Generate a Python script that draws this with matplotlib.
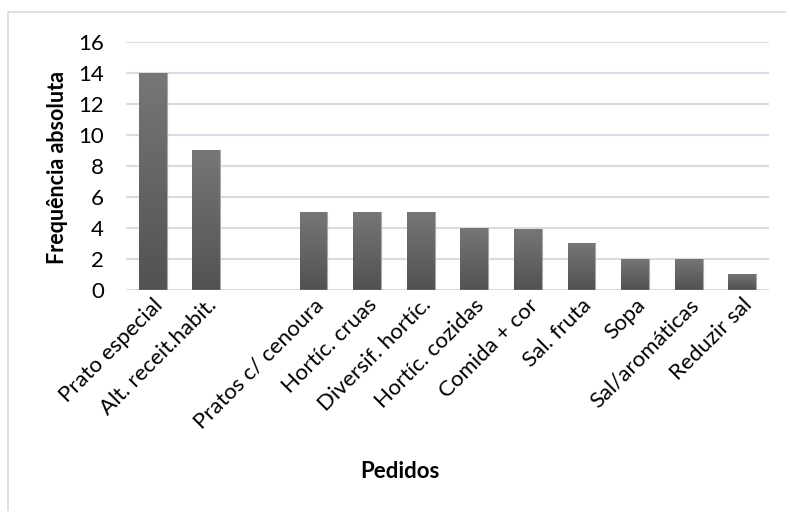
import numpy as np
import matplotlib
matplotlib.use("Agg")
import matplotlib.pyplot as plt
import matplotlib.transforms as mtransforms
from matplotlib.patches import Rectangle
from matplotlib.colors import LinearSegmentedColormap

# data (empty slot between the 2nd and 3rd category)
categories = ["Prato especial", "Alt. receit.habit.", "", "Pratos c/ cenoura",
              "Hortíc. cruas", "Diversif. hortíc.", "Hortíc. cozidas",
              "Comida + cor", "Sal. fruta", "Sopa", "Sal/aromáticas", "Reduzir sal"]
values = [14, 9, 0, 5, 5, 5, 4, 3.9, 3, 2, 2, 1]
y_ticks = [0, 2, 4, 6, 8, 10, 12, 14, 16]

plt.rcParams['font.family'] = ['Lato', 'DejaVu Sans']

W, H = 786, 511
fig = plt.figure(figsize=(W / 100, H / 100), dpi=100)
fig.patch.set_facecolor("white")

# chart frame
fig.patches.append(Rectangle((8 / W, -0.1), 1.2, 1 - 12 / H + 0.1, transform=fig.transFigure,
                             fill=False, edgecolor="#d9d9d9", linewidth=1.2))

ax = fig.add_axes([126 / W, 1 - 289.5 / H, (769 - 126) / W, (289.5 - 41.7) / H])
x = np.arange(len(categories))

for t in y_ticks:
    ax.axhline(t, color="#d9dde3", linewidth=1.5, zorder=0)

cmap = LinearSegmentedColormap.from_list("bar", ["#525252", "#777777"])
grad = np.linspace(0, 1, 256).reshape(-1, 1)
bw = 0.52
bars = ax.bar(x, values, width=bw, color="#606060", zorder=2)
for b, v in zip(bars, values):
    if v <= 0:
        b.set_visible(False)
        continue
    bx = b.get_x()
    im = ax.imshow(grad, extent=[bx, bx + bw, 0, v], origin="lower", cmap=cmap,
                   aspect="auto", zorder=3)
    im.set_clip_path(b)
    ax.plot([bx + bw, bx + bw], [0, v], color="#a8a8a8", linewidth=0.8, zorder=4)
ax.set_xlim(-0.5, len(categories) - 0.5)
ax.set_ylim(0, 16)

for s in ax.spines.values():
    s.set_visible(False)
ax.set_yticks(y_ticks)
ax.set_yticklabels([str(t) for t in y_ticks], fontsize=16)
ax.tick_params(axis="y", length=0, pad=16)
ax.set_xticks(x)
ax.set_xticklabels(categories, fontsize=16, rotation=45, ha="right",
                   rotation_mode="anchor", va="center")
ax.tick_params(axis="x", length=0, pad=9)
shift = mtransforms.ScaledTranslation(5 / 72, 0, fig.dpi_scale_trans)
for lbl in ax.get_xticklabels():
    lbl.set_transform(lbl.get_transform() + shift)

fig.text(57 / W, 1 - 168 / H, "Frequência absoluta", rotation=90, fontsize=15.5,
         fontweight="bold", ha="center", va="center")
fig.text(400 / W, 1 - 472 / H, "Pedidos", fontsize=16, fontweight="bold",
         ha="center", va="center")

fig.savefig("out.png", dpi=100)
